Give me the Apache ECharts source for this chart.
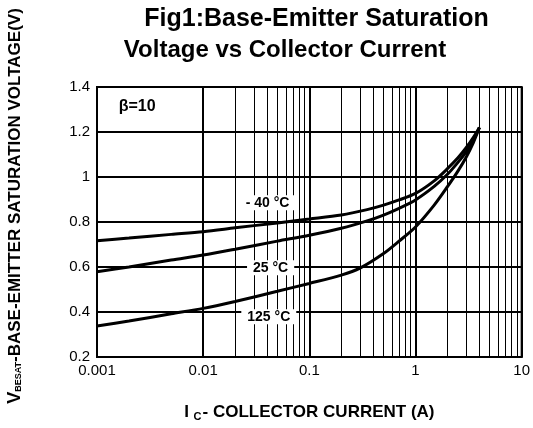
<!DOCTYPE html>
<html><head><meta charset="utf-8">
<script src="https://cdn.jsdelivr.net/npm/echarts@6/dist/echarts.min.js"></script>
<style>html,body{margin:0;padding:0;background:#fff}#c{width:533px;height:428px}</style>
</head><body><div id="c"></div>
<script>
// ---- data ----
const xTickLabels = ['0.001', '0.01', '0.1', '1', '10'];
const yTickLabels = ['0.2', '0.4', '0.6', '0.8', '1', '1.2', '1.4'];

const icM40 = [0.001, 0.002, 0.005, 0.01, 0.02, 0.05, 0.1, 0.2, 0.35, 0.5, 0.7, 1, 1.5, 2, 2.5, 3, 3.5, 4];
const vbeM40 = [0.717, 0.729, 0.745, 0.757, 0.774, 0.796, 0.813, 0.831, 0.855, 0.875, 0.898, 0.927, 0.983, 1.037, 1.084, 1.130, 1.175, 1.220];

const ic25 = [0.001, 0.002, 0.005, 0.01, 0.02, 0.05, 0.1, 0.2, 0.35, 0.5, 0.7, 1, 1.5, 2, 2.5, 3, 3.5, 4];
const vbe25 = [0.579, 0.600, 0.631, 0.653, 0.679, 0.715, 0.741, 0.772, 0.805, 0.831, 0.861, 0.898, 0.958, 1.012, 1.064, 1.112, 1.163, 1.220];

const ic125 = [0.001, 0.002, 0.005, 0.01, 0.02, 0.05, 0.1, 0.2, 0.3, 0.5, 0.7, 1, 1.5, 2, 2.5, 3, 3.5, 4];
const vbe125 = [0.338, 0.360, 0.392, 0.416, 0.447, 0.492, 0.527, 0.564, 0.595, 0.660, 0.715, 0.778, 0.875, 0.957, 1.025, 1.088, 1.152, 1.220];

const seriesNames = ['- 40 °C', '25 °C', '125 °C'];
const labelIc = [0.0404, 0.0432, 0.0415];
const labelVbe = [0.886, 0.597, 0.379];
const betaText = 'β=10';
const betaPos = [0.00239, 1.312];

const titleLines = ['Fig1:Base-Emitter Saturation', 'Voltage vs Collector Current'];
const minorDecades = [0.001, 0.01, 0.1, 1];
const minorMult = [2, 3, 4, 5, 6, 7, 8, 9];

// ---- build ----
const minorX = [];
minorDecades.forEach(d => minorMult.forEach(m => minorX.push(+(d * m).toPrecision(3))));
const zip = (a, b) => a.map((v, i) => [v, b[i]]);
const FONT = '"Liberation Sans", Arial, sans-serif';

const chart = echarts.init(document.getElementById('c'), null, {renderer: 'canvas'});
const curveStyle = {color: '#000', width: 3};
const labelStyle = {
  show: true, position: 'inside', color: '#000', fontFamily: FONT, fontWeight: 'bold',
  fontSize: 14, backgroundColor: '#fff', padding: [1, 6, 0, 6]
};

chart.setOption({
  animation: false,
  backgroundColor: '#fff',
  grid: {left: 97, right: 9, top: 87, bottom: 71, show: true, borderColor: '#000', borderWidth: 2, backgroundColor: 'transparent'},
  graphic: [
    {type: 'text', x: 316.5, y: 19, style: {text: titleLines[0], font: 'bold 25px ' + FONT, fill: '#000', textAlign: 'center', textVerticalAlign: 'middle'}},
    {type: 'text', x: 285, y: 50, style: {text: titleLines[1], font: 'bold 24px ' + FONT, fill: '#000', textAlign: 'center', textVerticalAlign: 'middle'}},
    {type: 'text', x: 15, y: 206, rotation: Math.PI / 2,
      style: {
        text: '{v|V}{s|BESAT}{n|-BASE-EMITTER SATURATION VOLTAGE(V)}',
        textAlign: 'center', textVerticalAlign: 'middle', fill: '#000',
        rich: {
          v: {fontFamily: FONT, fontWeight: 'bold', fontSize: 18, color: '#000'},
          s: {fontFamily: FONT, fontWeight: 'bold', fontSize: 9, color: '#000', padding: [7, 0, 0, 0]},
          n: {fontFamily: FONT, fontWeight: 'bold', fontSize: 17, color: '#000'}
        }
      }}
  ],
  xAxis: {
    type: 'log', logBase: 10, min: 0.001, max: 10,
    axisLine: {show: true, lineStyle: {color: '#000', width: 2}},
    axisTick: {show: false},
    splitLine: {show: true, lineStyle: {color: '#000', width: 2}},
    axisLabel: {
      color: '#000', fontFamily: FONT, fontSize: 15, margin: 6,
      formatter: v => xTickLabels[Math.round(Math.log10(v)) + 3]
    },
    name: '{b|I }{s|C}{b|- COLLECTOR CURRENT (A)}',
    nameLocation: 'middle', nameGap: 46,
    nameTextStyle: {
      rich: {
        b: {fontFamily: FONT, fontWeight: 'bold', fontSize: 17, color: '#000'},
        s: {fontFamily: FONT, fontWeight: 'bold', fontSize: 11, color: '#000', padding: [8, 1, 0, 0]}
      }
    }
  },
  yAxis: {
    type: 'value', min: 0.2, max: 1.4, interval: 0.2,
    axisLine: {show: true, lineStyle: {color: '#000', width: 2}},
    axisTick: {show: false},
    splitLine: {show: true, lineStyle: {color: '#000', width: 2}},
    axisLabel: {
      color: '#000', fontFamily: FONT, fontSize: 15, margin: 7,
      formatter: v => yTickLabels[Math.round((v - 0.2) / 0.2)]
    }
  },
  series: [
    {
      type: 'line', name: 'minor-grid', data: [], z: 1, silent: true,
      markLine: {
        silent: true, symbol: ['none', 'none'], animation: false,
        label: {show: false},
        lineStyle: {color: '#000', width: 1, type: 'solid'},
        emphasis: {disabled: true},
        data: minorX.map(v => ({xAxis: v}))
      }
    },
    {type: 'line', name: seriesNames[0], data: zip(icM40, vbeM40), smooth: 0.3, showSymbol: false, lineStyle: curveStyle, z: 3},
    {type: 'line', name: seriesNames[1], data: zip(ic25, vbe25), smooth: 0.3, showSymbol: false, lineStyle: curveStyle, z: 3},
    {type: 'line', name: seriesNames[2], data: zip(ic125, vbe125), smooth: 0.3, showSymbol: false, lineStyle: curveStyle, z: 3},
    {
      type: 'line', name: 'labels', data: [], z: 5, silent: true,
      markPoint: {
        symbol: 'rect', symbolSize: 1, itemStyle: {color: 'rgba(0,0,0,0)'}, silent: true,
        label: labelStyle,
        data: seriesNames.map((n, i) => ({coord: [labelIc[i], labelVbe[i]], label: {formatter: n}}))
          .concat([{coord: betaPos, label: {formatter: betaText, fontSize: 16, padding: [2, 4, 1, 4]}}])
      }
    }
  ]
});
</script></body></html>
